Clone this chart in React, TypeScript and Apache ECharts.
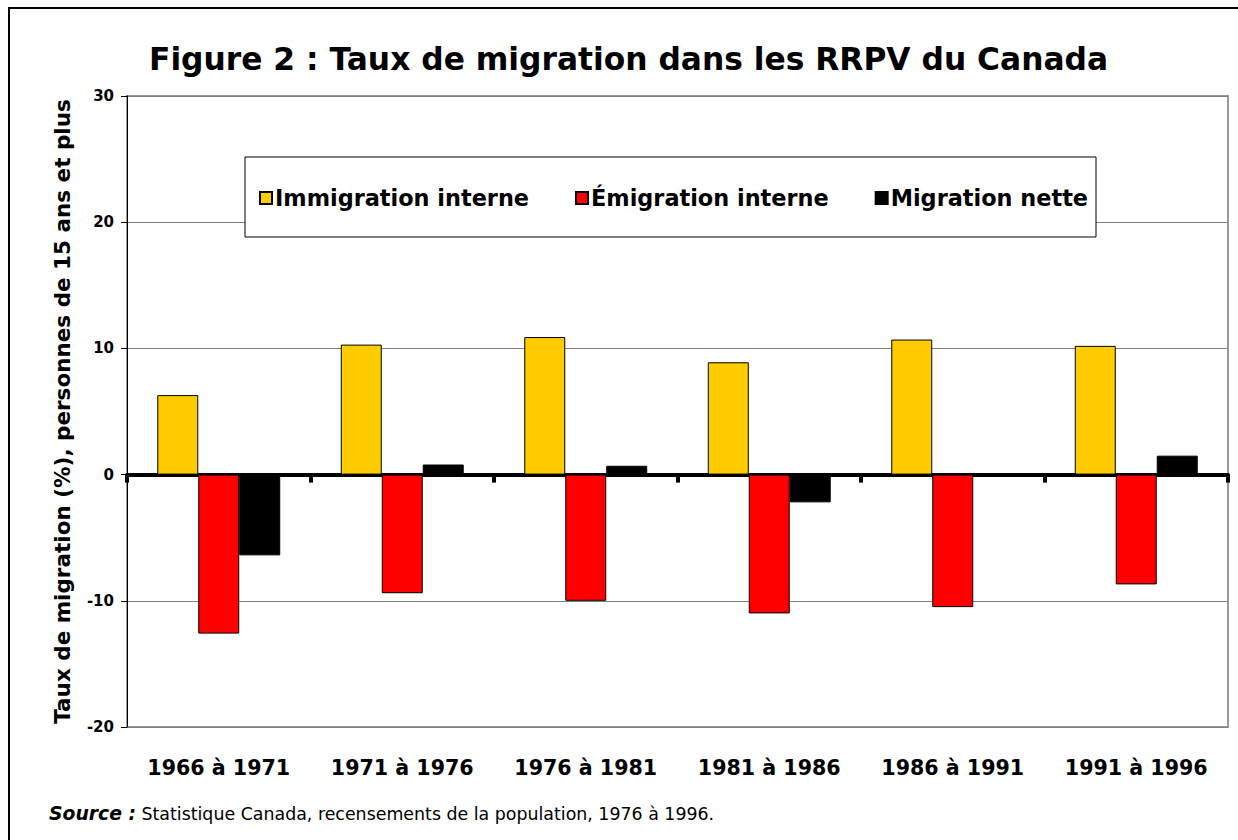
import React, { useEffect, useRef } from "react";
import * as echarts from "echarts";

const categories = ["1966 à 1971", "1971 à 1976", "1976 à 1981", "1981 à 1986", "1986 à 1991", "1991 à 1996"];
const immigration = [6.3, 10.3, 10.9, 8.9, 10.7, 10.2];
const emigration = [-12.6, -9.4, -10.0, -11.0, -10.5, -8.7];
const nette = [-6.4, 0.8, 0.7, -2.2, 0.1, 1.5];
const seriesNames = ["Immigration interne", "Émigration interne", "Migration nette"];
const titleText = "Figure 2 : Taux de migration dans les RRPV du Canada";
const yAxisTitle = "Taux de migration (%), personnes de 15 ans et plus";
const sourceLabel = "Source :";
const sourceText = "Statistique Canada, recensements de la population, 1976 à 1996.";

const FONT = "'DejaVu Sans', sans-serif";

export default function App() {
  const ref = useRef<HTMLDivElement>(null);
  useEffect(() => {
    if (!ref.current) return;
    const chart = echarts.init(ref.current, undefined, { renderer: "svg" });
    chart.setOption({
      animation: false,
      backgroundColor: "#ffffff",
      textStyle: { fontFamily: FONT },
      title: {
        text: titleText,
        left: 144,
        top: 38,
        textStyle: { fontFamily: FONT, fontSize: 31.3, fontWeight: "bold", color: "#000" },
      },
      legend: {
        data: seriesNames,
        icon: "rect",
        left: 245,
        top: 157,
        padding: [30, 8, 28, 14],
        itemGap: 46,
        itemWidth: 12,
        itemHeight: 12,
        backgroundColor: "#ffffff",
        borderColor: "#000000",
        borderWidth: 1,
        textStyle: { fontFamily: FONT, fontSize: 22.4, fontWeight: "bold", color: "#000", padding: [0, 0, 0, -2] },
        z: 10,
      },
      grid: {
        left: 127,
        right: 10,
        top: 96,
        bottom: 113,
        show: true,
        borderColor: "#999999",
        borderWidth: 2,
        backgroundColor: "transparent",
      },
      xAxis: [
        {
          type: "category",
          data: categories,
          axisLine: { onZero: true, lineStyle: { color: "#000", width: 4 } },
          axisTick: { show: true, interval: 0, length: 8, lineStyle: { color: "#000", width: 4 } },
          axisLabel: { show: false },
          splitLine: { show: false },
        },
        {
          type: "category",
          data: categories,
          position: "bottom",
          axisLine: { show: false, onZero: false },
          axisTick: { show: false },
          axisLabel: { show: true, interval: 0, margin: 30, fontFamily: FONT, fontSize: 20.6, fontWeight: "bold", color: "#000" },
          splitLine: { show: false },
        },
      ],
      yAxis: {
        type: "value",
        min: -20,
        max: 30,
        interval: 10,
        name: yAxisTitle,
        nameLocation: "middle",
        nameGap: 54,
        nameTextStyle: { fontFamily: FONT, fontSize: 21.5, fontWeight: "bold", color: "#000" },
        axisLine: { show: true, lineStyle: { color: "#000", width: 1 } },
        axisTick: { show: true, length: 6, lineStyle: { color: "#000" } },
        axisLabel: { margin: 13, fontFamily: FONT, fontSize: 15, fontWeight: "bold", color: "#000" },
        splitLine: { show: true, lineStyle: { color: "#808080", width: 1 } },
      },
      series: [
        {
          name: seriesNames[0],
          type: "bar",
          data: immigration,
          barGap: "0%",
          barCategoryGap: "33%",
          itemStyle: { color: "#FFCC00", borderColor: "#000", borderWidth: 1 },
        },
        {
          name: seriesNames[1],
          type: "bar",
          data: emigration,
          itemStyle: { color: "#FF0000", borderColor: "#000", borderWidth: 1 },
        },
        {
          name: seriesNames[2],
          type: "bar",
          data: nette,
          itemStyle: { color: "#000000", borderColor: "#000", borderWidth: 1 },
        },
      ],
      graphic: [
        {
          type: "polyline",
          shape: { points: [[9, 845], [9, 8], [1245, 8]] },
          style: { stroke: "#000", lineWidth: 2, fill: null },
          z: 100,
        },
        {
          type: "text",
          left: 49,
          top: 804,
          style: {
            text: "{b|" + sourceLabel + "} " + sourceText,
            fontFamily: FONT,
            fontSize: 17.4,
            fill: "#000",
            rich: {
              b: { fontFamily: FONT, fontSize: 18.8, fontWeight: "bold", fontStyle: "italic", fill: "#000" },
            },
          },
        },
      ],
    });
    return () => chart.dispose();
  }, []);
  return <div ref={ref} style={{ position: "fixed", left: 0, top: 0, width: 1238, height: 840 }} />;
}
